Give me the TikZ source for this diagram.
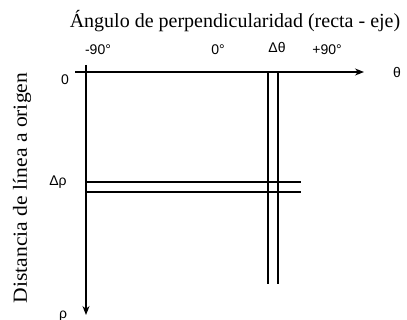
\documentclass[tikz,border=0pt]{standalone}
\usepackage{fontspec}
\usepackage{graphicx}
\setmainfont{Liberation Serif}
\newfontfamily\axfont{Liberation Sans}
\usetikzlibrary{arrows.meta}
\begin{document}
\begin{tikzpicture}[x=1pt,y=-1pt,
  ln/.style={line width=1.2pt,black},
  ax/.style={ln,-{Stealth[length=9pt,width=7pt]}},
  lab/.style={font=\axfont\fontsize{14}{15}\selectfont,inner sep=0pt},
  ttl/.style={font=\fontsize{20}{22}\selectfont,inner sep=0pt}]
\useasboundingbox (0,0) rectangle (407,320);
\coordinate (hs) at (75,72);
\coordinate (he) at (364,72);
\coordinate (vs) at (86,65);
\coordinate (ve) at (86,315);
\draw[ax] (hs) -- (he);
\draw[ax] (vs) -- (ve);
\coordinate (t1a) at (268,72); \coordinate (t1b) at (268,284);
\coordinate (t2a) at (278,72); \coordinate (t2b) at (278,284);
\draw[ln] (t1a) -- (t1b);
\draw[ln] (t2a) -- (t2b);
\coordinate (r1a) at (86,182); \coordinate (r1b) at (301,182);
\coordinate (r2a) at (86,192); \coordinate (r2b) at (301,192);
\draw[ln] (r1a) -- (r1b);
\draw[ln] (r2a) -- (r2b);
\node[ttl] (title) at (235,21) {Ángulo de perpendicularidad (recta - eje)};
\node[ttl,rotate=90] (ylab) at (22,188) {\scalebox{1.08}[1]{Distancia de línea a origen}};
\node[lab] (m90) at (98,50) {-90°};
\node[lab] (z) at (218,50) {0°};
\node[lab] (dt) at (277,48) {Δθ};
\node[lab] (p90) at (327,50) {+90°};
\node[lab] (th) at (397,73) {θ};
\node[lab] (o) at (65,80) {0};
\node[lab] (dr) at (58,182) {Δρ};
\node[lab] (rho) at (63,316) {ρ};
\end{tikzpicture}
\end{document}
